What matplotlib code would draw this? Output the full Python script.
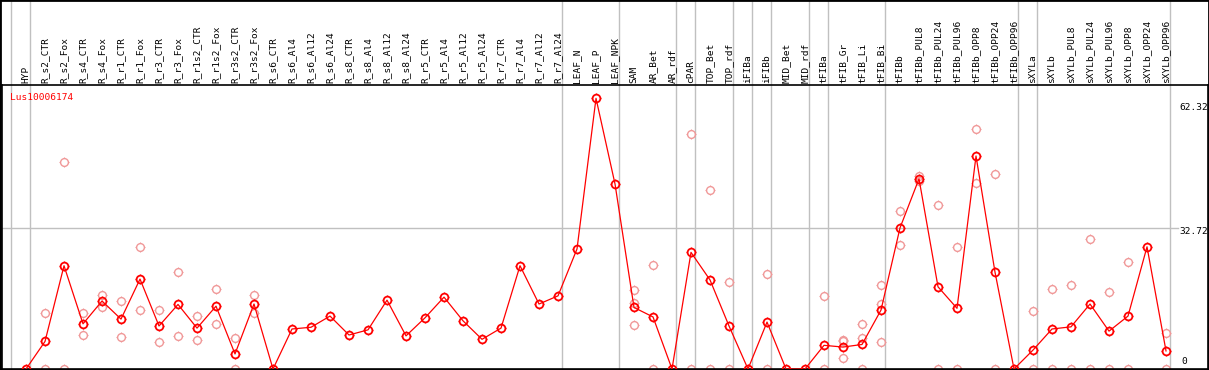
import numpy as np
import matplotlib
matplotlib.use('Agg')
import matplotlib.pyplot as plt
from matplotlib.path import Path

# sample names in plotting order
samples = ['HYP', 'R_s2_CTR', 'R_s2_Fox', 'R_s4_CTR', 'R_s4_Fox', 'R_r1_CTR', 'R_r1_Fox',
           'R_r3_CTR', 'R_r3_Fox', 'R_r1s2_CTR', 'R_r1s2_Fox', 'R_r3s2_CTR', 'R_r3s2_Fox',
           'R_s6_CTR', 'R_s6_Al4', 'R_s6_Al12', 'R_s6_Al24', 'R_s8_CTR', 'R_s8_Al4',
           'R_s8_Al12', 'R_s8_Al24', 'R_r5_CTR', 'R_r5_Al4', 'R_r5_Al12', 'R_r5_Al24',
           'R_r7_CTR', 'R_r7_Al4', 'R_r7_Al12', 'R_r7_Al24', 'LEAF_N', 'LEAF_P', 'LEAF_NPK',
           'SAM', 'AR_Bet', 'AR_rdf', 'cPAR', 'TOP_Bet', 'TOP_rdf', 'iFIBa', 'iFIBb',
           'MID_Bet', 'MID_rdf', 'tFIBa', 'tFIB_Gr', 'tFIB_Li', 'tFIB_Bi', 'tFIBb',
           'tFIBb_PUL8', 'tFIBb_PUL24', 'tFIBb_PUL96', 'tFIBb_OPP8', 'tFIBb_OPP24',
           'tFIBb_OPP96', 'sXYLa', 'sXYLb', 'sXYLb_PUL8', 'sXYLb_PUL24', 'sXYLb_PUL96',
           'sXYLb_OPP8', 'sXYLb_OPP24', 'sXYLb_OPP96']

# mean expression per sample
means = [0, 6.4, 24.0, 10.5, 15.8, 11.6, 20.9, 10.0, 15.0, 9.5, 14.6, 3.5, 15.1,
         0, 9.3, 9.7, 12.3, 7.9, 9.1, 16.0, 7.7, 11.9, 16.7, 11.2, 6.9,
         9.5, 24.0, 15.1, 17.0, 27.9, 62.9, 43.0,
         14.3, 12.1, 0, 27.1, 20.7, 10.0, 0, 10.9,
         0, 0, 5.5, 5.1, 5.7, 13.7, 32.8,
         44.2, 19.1, 14.1, 49.5, 22.5,
         0, 4.4, 9.3, 9.8, 15.1, 8.8,
         12.3, 28.4, 4.2]

# individual replicates (only the visible ones)
replicates = [[], [13.0, 0], [48.1, 0], [13.0, 7.8], [17.1, 14.4], [15.8, 7.4], [28.3, 13.7],
              [13.7, 6.2], [22.5, 7.7], [12.3, 6.7], [18.5, 10.4], [7.2, 0], [17.2, 13.0],
              [], [], [], [], [], [], [], [], [], [], [], [],
              [], [], [], [], [], [], [],
              [18.4, 15.3, 10.2], [24.2, 0], [], [54.7, 0], [41.6, 0], [20.2, 0], [], [22.1, 0],
              [], [], [17.0, 0], [6.7, 6.4, 2.6], [10.5, 7.2, 0], [19.5, 15.1, 6.3], [36.7, 28.8],
              [44.9, 43.6], [38.1, 0], [28.4, 0], [55.7, 43.2], [45.3, 0],
              [], [13.5, 0], [18.6, 0], [19.5, 0], [30.2, 0], [17.9, 0],
              [24.9, 0], [], [8.4, 0]]

# index of last sample in each tissue group
group_ends = [-1, 0, 28, 31, 34, 35, 37, 38, 39, 41, 42, 45, 52, 53, 60]

gene = 'Lus10006174'
ymax_label = '62.32'
ymid = 32.72

# four small ticks around the circles
r = 0.7
segs = []
for dx, dy in [(0, 1), (0, -1), (1, 0), (-1, 0)]:
    segs.append(Path([(dx * r, dy * r), (dx, dy)], [Path.MOVETO, Path.LINETO]))
ticks = Path.make_compound_path(*segs)

W, H = 1209, 370
fig = plt.figure(figsize=(W / 100, H / 100), dpi=100)
ax = fig.add_axes([1.5 / W, 1 / H, 1206.5 / W, 284 / H])

x = np.arange(len(samples))
ax.set_xlim(-1.29, 62.21)
ax.set_ylim(0, 66)

for g in group_ends:
    ax.axvline(g + 0.21, ymin=0, ymax=1.31, color='#c0c0c0', lw=1, clip_on=False, zorder=0)
ax.axhline(ymid, xmin=0, xmax=0.975, color='#c0c0c0', lw=1, zorder=0)

for i, reps in enumerate(replicates):
    if reps:
        ax.plot([i] * len(reps), reps, ls='none', marker='o', ms=5.6,
                mfc='none', mec='#f09898', mew=1.0, zorder=2)
        ax.plot([i] * len(reps), reps, ls='none', marker=ticks, ms=7.6,
                mec='#f09898', mew=0.8, zorder=2)

ax.plot(x, means, color='red', lw=0.9, zorder=3)
ax.plot(x, means, ls='none', marker='o', ms=5.6, mfc='none', mec='red', mew=1.3, zorder=4)
ax.plot(x, means, ls='none', marker=ticks, ms=7.6, mec='red', mew=0.9, zorder=4)

mono = 'DejaVu Sans Mono'
for i, s in enumerate(samples):
    ax.text(i, 1.008, s, transform=ax.get_xaxis_transform(), rotation=90,
            ha='center', va='bottom', fontsize=6.8, family=mono, clip_on=False)

fig.text(10 / W, 1 - 97 / H, gene, color='red', fontsize=6.8, family=mono,
         ha='left', va='center')
fig.text(1179 / W, 1 - 107 / H, ymax_label, fontsize=6.8, family=mono, ha='left', va='center')
fig.text(1179 / W, 1 - 232 / H, f'{ymid:.2f}', fontsize=6.8, family=mono, ha='left', va='center')
fig.text(1181 / W, 1 - 362 / H, '0', fontsize=6.8, family=mono, ha='left', va='center')

ax.set_xticks([])
ax.set_yticks([])
for sp in ax.spines.values():
    sp.set_linewidth(1.2)
    sp.set_color('black')

fig.patches.append(plt.Rectangle((0, 0), 1, 1, transform=fig.transFigure, fill=False,
                                 ec='black', lw=2, zorder=10))

fig.savefig('out.png', dpi=100)
